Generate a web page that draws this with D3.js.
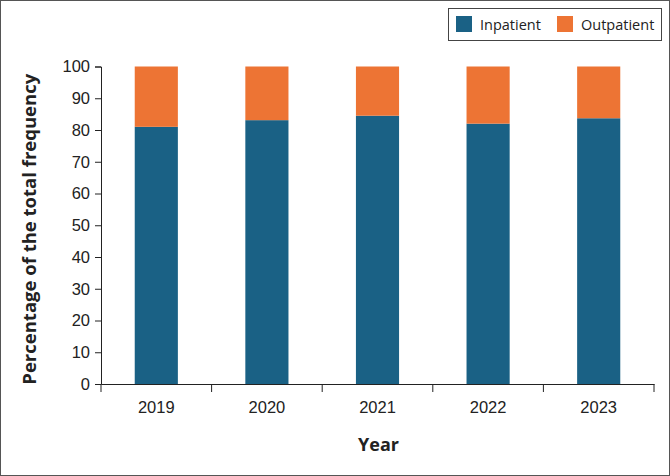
<!DOCTYPE html>
<html>
<head>
<meta charset="utf-8">
<script src="https://cdn.jsdelivr.net/npm/d3@7"></script>
<style>
  body { margin: 0; background: #fff; }
  svg { display: block; font-family: 'Open Sans', sans-serif; }
</style>
</head>
<body>
<svg id="chart" width="670" height="476"></svg>
<script>
const years = ['2019', '2020', '2021', '2022', '2023'];
const inpatient = [81.0, 83.1, 84.5, 82.0, 83.7];
const outpatient = inpatient.map(v => 100 - v);
const seriesNames = ['Inpatient', 'Outpatient'];
const colors = ['#1a6185', '#ed7434'];

const svg = d3.select('#chart');
const W = 670, H = 476;
const margin = { left: 101, right: 16, top: 66.5, bottom: 92 };

// frame round the figure
svg.append('rect')
  .attr('x', 0.5).attr('y', 0.5)
  .attr('width', W - 1).attr('height', H - 1)
  .attr('fill', '#fff')
  .attr('stroke', '#555')
  .attr('stroke-width', 1);

const x = d3.scaleBand()
  .domain(years)
  .range([margin.left, W - margin.right])
  .paddingInner(0.61)
  .paddingOuter(0.305);

const y = d3.scaleLinear()
  .domain([0, 100])
  .range([H - margin.bottom, margin.top]);

const rows = years.map((yr, i) => ({ year: yr, Inpatient: inpatient[i], Outpatient: outpatient[i] }));
const stack = d3.stack().keys(seriesNames)(rows);

const g = svg.append('g');
g.selectAll('g.series')
  .data(stack)
  .enter()
  .append('g')
  .attr('class', 'series')
  .attr('fill', (d, i) => colors[i])
  .selectAll('rect')
  .data(d => d)
  .enter()
  .append('rect')
  .attr('x', d => x(d.data.year))
  .attr('width', x.bandwidth())
  .attr('y', d => y(d[1]))
  .attr('height', d => y(d[0]) - y(d[1]));

// Y axis
const yAxis = svg.append('g')
  .attr('transform', `translate(${margin.left},0)`)
  .call(d3.axisLeft(y).tickValues(d3.range(0, 101, 10)).tickSize(6).tickPadding(5));

// X axis - ticks between categories
const xAxis = svg.append('g')
  .attr('transform', `translate(0,${H - margin.bottom})`)
  .call(d3.axisBottom(x).tickSize(0).tickPadding(17));

const bounds = [margin.left].concat(years.map(yr => x(yr) + x.bandwidth() / 2 + x.step() / 2));
xAxis.selectAll('line.sep')
  .data(bounds)
  .enter()
  .append('line')
  .attr('class', 'sep')
  .attr('x1', d => d).attr('x2', d => d)
  .attr('y1', 0).attr('y2', 8)
  .attr('stroke', '#222');

[yAxis, xAxis].forEach(ax => {
  ax.select('.domain').attr('stroke', '#222').attr('stroke-width', 1);
  ax.selectAll('.tick line').attr('stroke', '#222');
  ax.selectAll('text').style('font-size', '16.5px').attr('fill', '#222');
});

// Axis titles
svg.append('text')
  .attr('transform', `translate(36,${(y(0) + y(100)) / 2 + 4}) rotate(-90)`)
  .attr('text-anchor', 'middle')
  .style('font-size', '18.5px')
  .style('font-weight', 'bold')
  .attr('fill', '#222')
  .text('Percentage of the total frequency');

svg.append('text')
  .attr('x', (margin.left + W - margin.right) / 2 + 1)
  .attr('y', 451)
  .attr('text-anchor', 'middle')
  .style('font-size', '18px')
  .style('font-weight', 'bold')
  .attr('fill', '#222')
  .text('Year');

// Legend
const legend = svg.append('g');
legend.append('rect')
  .attr('x', 448.5).attr('y', 8.5)
  .attr('width', 213).attr('height', 32)
  .attr('fill', '#fff')
  .attr('stroke', '#444');

const legendX = [456, 557];
const items = legend.selectAll('g.item')
  .data(seriesNames)
  .enter()
  .append('g')
  .attr('class', 'item')
  .attr('transform', (d, i) => `translate(${legendX[i]},16)`);
items.append('rect')
  .attr('width', 16).attr('height', 16)
  .attr('fill', (d, i) => colors[i]);
items.append('text')
  .attr('x', 24).attr('y', 13.5)
  .style('font-size', '14.5px')
  .attr('fill', '#222')
  .text(d => d);
</script>
</body>
</html>
